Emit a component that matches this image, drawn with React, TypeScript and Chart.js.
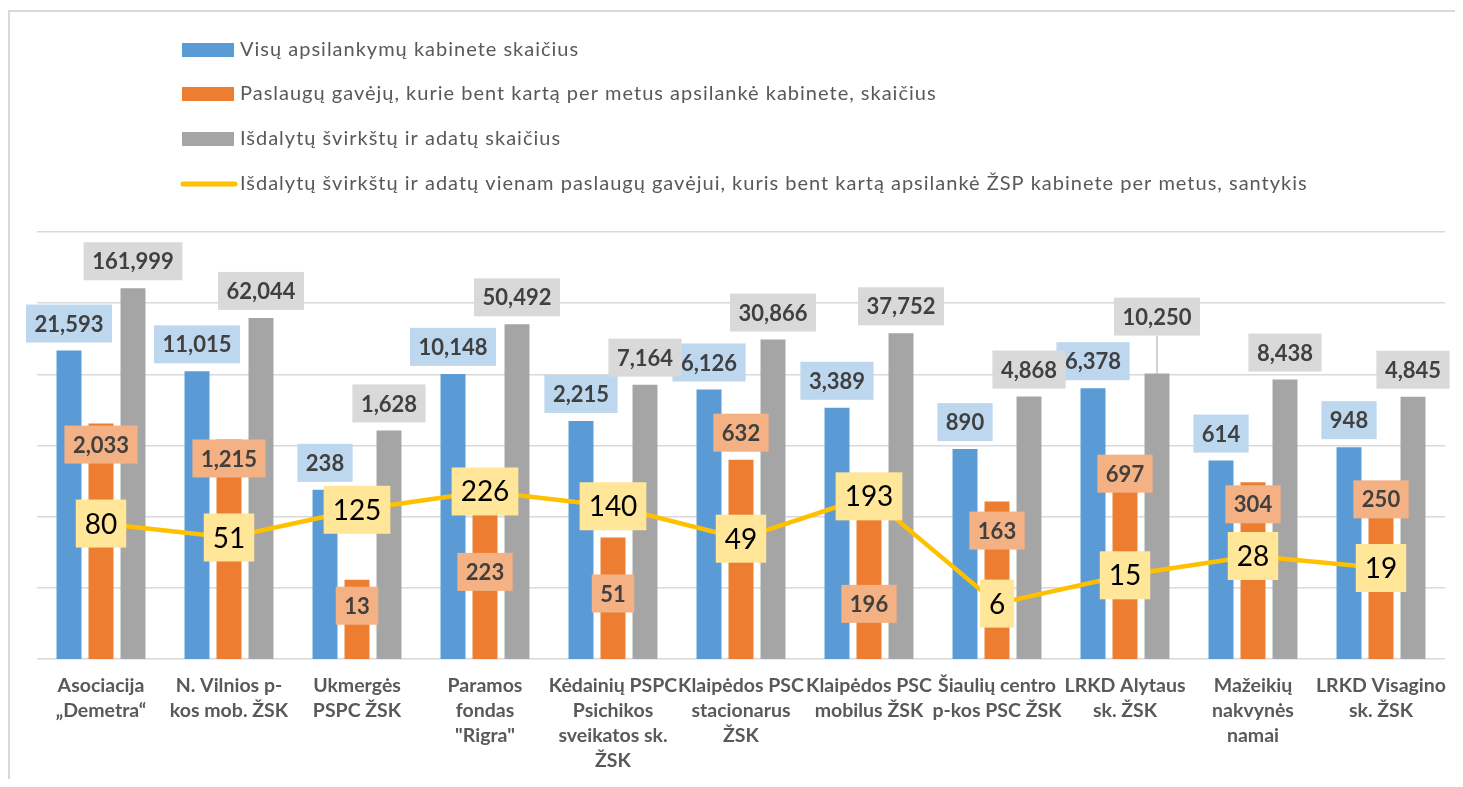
import { useEffect, useRef } from "react";
import { Chart, registerables } from "chart.js";

Chart.register(...registerables);

const seriesNames = [
  "Visų apsilankymų kabinete skaičius",
  "Paslaugų gavėjų, kurie bent kartą per metus apsilankė kabinete, skaičius",
  "Išdalytų švirkštų ir adatų skaičius",
  "Išdalytų švirkštų ir adatų vienam paslaugų gavėjui, kuris bent kartą apsilankė ŽSP kabinete per metus, santykis",
];

const categories = [
  ["Asociacija", "„Demetra“"],
  ["N. Vilnios p-", "kos mob. ŽSK"],
  ["Ukmergės", "PSPC ŽSK"],
  ["Paramos", "fondas", "\"Rigra\""],
  ["Kėdainių PSPC", "Psichikos", "sveikatos sk.", "ŽSK"],
  ["Klaipėdos PSC", "stacionarus", "ŽSK"],
  ["Klaipėdos PSC", "mobilus ŽSK"],
  ["Šiaulių centro", "p-kos PSC ŽSK"],
  ["LRKD Alytaus", "sk. ŽSK"],
  ["Mažeikių", "nakvynės", "namai"],
  ["LRKD Visagino", "sk. ŽSK"],
];

const visits = [21593, 11015, 238, 10148, 2215, 6126, 3389, 890, 6378, 614, 948];
const clients = [2033, 1215, 13, 223, 51, 632, 196, 163, 697, 304, 250];
const syringes = [161999, 62044, 1628, 50492, 7164, 30866, 37752, 4868, 10250, 8438, 4845];
const ratio = [80, 51, 125, 226, 140, 49, 193, 6, 15, 28, 19];

const yTicks = [1, 10, 100, 1000, 10000, 100000, 1000000];

// manual label nudges (px), as placed in the original
const clientLabelShift = [2, 0, 7, 61, 37, -46, 89, 10, -2, 3, -8];
const syringeLabelShift = [0, 0, 0, 0, 0, 0, 0, 0, -30, 0, 0];

const COLORS = ["#5B9BD5", "#ED7D31", "#A5A5A5", "#FFC000"];
const LABEL_BG = ["#BDD7EE", "#F4B183", "#D9D9D9", "#FFE699"];
const FONT = "Lato, 'Open Sans', sans-serif";

const fmt = (v: number) => v.toLocaleString("en-US");

function drawBox(
  ctx: CanvasRenderingContext2D,
  cx: number,
  cy: number,
  text: string,
  bg: string,
  font: string,
  color: string,
  padX: number,
  h: number
) {
  ctx.font = font;
  const w = ctx.measureText(text).width + 2 * padX;
  ctx.fillStyle = bg;
  ctx.fillRect(cx - w / 2, cy - h / 2, w, h);
  ctx.fillStyle = color;
  ctx.textAlign = "center";
  ctx.textBaseline = "middle";
  ctx.fillText(text, cx, cy + 1);
}

const framePlugin = {
  id: "frame",
  beforeDraw(chart: any) {
    const ctx = chart.ctx;
    ctx.save();
    ctx.fillStyle = "#D9D9D9";
    ctx.fillRect(0, 2, chart.width, 2);
    ctx.fillRect(0, 2, 2, chart.height);
    ctx.restore();
  },
};

const legendPlugin = {
  id: "vlegend",
  afterDraw(chart: any) {
    const ctx = chart.ctx;
    ctx.save();
    const rows = [42, 86, 131, 176];
    seriesNames.forEach((name, i) => {
      const y = rows[i];
      if (i < 3) {
        ctx.fillStyle = COLORS[i];
        ctx.fillRect(174, y - 7, 52, 14);
      } else {
        ctx.strokeStyle = COLORS[i];
        ctx.lineWidth = 5;
        ctx.lineCap = "round";
        ctx.beginPath();
        ctx.moveTo(175, y);
        ctx.lineTo(227, y);
        ctx.stroke();
      }
      ctx.fillStyle = "#595959";
      ctx.font = `20px ${FONT}`;
      (ctx as any).letterSpacing = "1px";
      ctx.textAlign = "left";
      ctx.textBaseline = "middle";
      ctx.fillText(name, 232, y);
      (ctx as any).letterSpacing = "0px";
    });
    ctx.restore();
  },
};

const labelPlugin = {
  id: "boxlabels",
  afterDatasetsDraw(chart: any) {
    const ctx = chart.ctx;
    ctx.save();
    const barFont = `bold 22px ${FONT}`;
    const mBlue = chart.getDatasetMeta(1);
    const mOrange = chart.getDatasetMeta(2);
    const mGray = chart.getDatasetMeta(3);
    const mLine = chart.getDatasetMeta(0);

    mBlue.data.forEach((el: any, i: number) => {
      drawBox(ctx, el.x, el.y - 27, fmt(visits[i]), LABEL_BG[0], barFont, "#404040", 8.5, 38);
    });
    mOrange.data.forEach((el: any, i: number) => {
      drawBox(ctx, el.x, el.y + 19 + clientLabelShift[i], fmt(clients[i]), LABEL_BG[1], barFont, "#404040", 8.5, 38);
    });
    mGray.data.forEach((el: any, i: number) => {
      const cy = el.y - 27 + syringeLabelShift[i];
      if (syringeLabelShift[i] !== 0) {
        ctx.strokeStyle = "#A6A6A6";
        ctx.lineWidth = 1;
        ctx.beginPath();
        ctx.moveTo(el.x, cy + 19);
        ctx.lineTo(el.x, el.y);
        ctx.stroke();
      }
      drawBox(ctx, el.x, cy, fmt(syringes[i]), LABEL_BG[2], barFont, "#404040", 8.5, 38);
    });
    mLine.data.forEach((el: any, i: number) => {
      drawBox(ctx, el.x, el.y, fmt(ratio[i]), LABEL_BG[3], `28px ${FONT}`, "#000000", 9, 48);
    });
    ctx.restore();
  },
};

export default function App() {
  const ref = useRef<HTMLCanvasElement | null>(null);

  useEffect(() => {
    if (!ref.current) return;
    const chart = new Chart(ref.current, {
      type: "bar",
      data: {
        labels: categories,
        datasets: [
          {
            type: "line",
            label: seriesNames[3],
            data: ratio,
            borderColor: COLORS[3],
            backgroundColor: COLORS[3],
            borderWidth: 4.5,
            pointRadius: 0,
            tension: 0,
            order: 0,
          } as any,
          {
            label: seriesNames[0],
            data: visits,
            backgroundColor: COLORS[0],
            categoryPercentage: 0.75,
            barPercentage: 0.78,
            order: 1,
          },
          {
            label: seriesNames[1],
            data: clients,
            backgroundColor: COLORS[1],
            categoryPercentage: 0.75,
            barPercentage: 0.78,
            order: 1,
          },
          {
            label: seriesNames[2],
            data: syringes,
            backgroundColor: COLORS[2],
            categoryPercentage: 0.75,
            barPercentage: 0.78,
            order: 1,
          },
        ],
      },
      options: {
        responsive: false,
        animation: false,
        layout: { padding: { left: 29, right: 18, top: 224, bottom: 0 } },
        plugins: {
          legend: { display: false },
          tooltip: { enabled: false },
        },
        scales: {
          x: {
            grid: { display: false, drawTicks: false },
            border: { display: false },
            ticks: {
              autoSkip: false,
              maxRotation: 0,
              minRotation: 0,
              padding: 14,
              color: "#595959",
              font: { family: FONT, weight: "bold", size: 19.5, lineHeight: 25 / 19.5 },
            },
            afterFit: (s: any) => {
              s.height = 120;
            },
          },
          y: {
            type: "logarithmic",
            min: 1,
            max: 1000000,
            grid: { color: "#D9D9D9", lineWidth: 1.5, drawTicks: false },
            border: { display: false },
            ticks: { display: false },
            afterBuildTicks: (s: any) => {
              s.ticks = yTicks.map((v) => ({ value: v }));
            },
            afterFit: (s: any) => {
              s.width = 0;
            },
          },
        },
      } as any,
      plugins: [framePlugin, legendPlugin, labelPlugin],
    });
    return () => chart.destroy();
  }, []);

  return (
    <canvas
      ref={ref}
      width={1455}
      height={771}
      style={{ display: "block", width: 1455, height: 771 }}
    />
  );
}
